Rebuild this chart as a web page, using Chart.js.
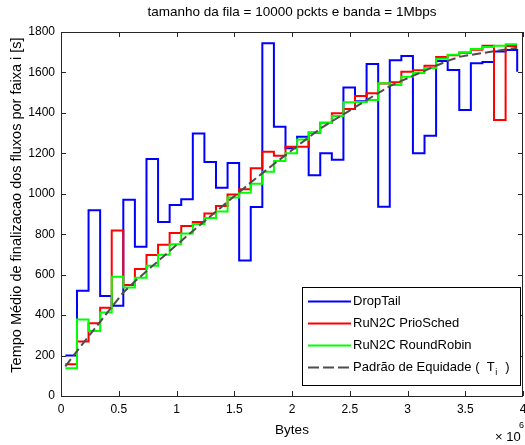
<!DOCTYPE html>
<html><head><meta charset="utf-8">
<script src="https://cdn.jsdelivr.net/npm/chart.js@4.4.1/dist/chart.umd.min.js"></script>
<style>html,body{margin:0;padding:0;background:#fff}</style>
</head><body>
<canvas id="c" width="525" height="445"></canvas>
<script>
// ---- data ----
const xBytes = [38000, 138300, 238600, 338900, 439200, 539500, 639800, 740100, 840400, 940700,
  1041000, 1141300, 1241600, 1341900, 1442200, 1542500, 1642800, 1743100, 1843400, 1943700,
  2044000, 2144300, 2244600, 2344900, 2445200, 2545500, 2645800, 2746100, 2846400, 2946700,
  3047000, 3147300, 3247600, 3347900, 3448200, 3548500, 3648800, 3749100, 3849400, 3949700];
const dropTail = [200, 520, 918, 494, 446, 971, 738, 1172, 860, 945,
  973, 1298, 1157, 1030, 1152, 670, 934, 1744, 1332, 1225,
  1282, 1092, 1200, 1168, 1526, 1457, 1642, 936, 1660, 1681,
  1200, 1287, 1657, 1612, 1414, 1645, 1652, 1704, 1711, 1604];
const prioSched = [157, 269, 360, 437, 819, 549, 628, 697, 748, 806,
  841, 860, 903, 940, 997, 1022, 1126, 1208, 1188, 1233,
  1233, 1302, 1351, 1398, 1419, 1483, 1497, 1545, 1552, 1604,
  1611, 1633, 1676, 1685, 1697, 1712, 1732, 1365, 1731, 1731];
const roundRobin = [137, 378, 321, 413, 590, 537, 585, 644, 699, 750,
  803, 850, 880, 912, 981, 1005, 1050, 1109, 1162, 1200,
  1268, 1304, 1351, 1385, 1452, 1454, 1464, 1546, 1538, 1579,
  1597, 1622, 1668, 1688, 1700, 1716, 1726, 1732, 1739, 1739];
const equidade = [147, 222, 295, 367, 440, 512, 567, 617, 667, 717,
  767, 816, 864, 912, 960, 1008, 1056, 1102, 1147, 1191,
  1235, 1279, 1322, 1358, 1393, 1428, 1463, 1498, 1532, 1558,
  1583, 1608, 1633, 1657, 1677, 1687, 1696, 1705, 1714, 1722];
const xTicks = [0, 500000, 1000000, 1500000, 2000000, 2500000, 3000000, 3500000, 4000000];
const yTicks = [0, 200, 400, 600, 800, 1000, 1200, 1400, 1600, 1800];
const seriesNames = ['DropTail', 'RuN2C PrioSched', 'RuN2C RoundRobin', 'Padrão de Equidade'];
const chartTitle = 'tamanho da fila = 10000 pckts e banda = 1Mbps';
const xTitle = 'Bytes';
const yTitle = 'Tempo Médio de finalizacao dos fluxos por faixa i [s]';

const FONT = '"Liberation Sans", Arial, Helvetica, sans-serif';
const colors = ['#0000ff', '#ff0000', '#00ff00', '#4d4d4d'];
const DASH = [9, 4];

function pts(ys) { return xBytes.map((x, i) => ({ x: x, y: ys[i] })); }

const framePlugin = {
  id: 'frame',
  beforeDatasetsDraw(chart) {
    const { ctx, chartArea: a, scales: { x, y } } = chart;
    ctx.save();
    ctx.strokeStyle = '#262626';
    ctx.lineWidth = 1;
    ctx.strokeRect(Math.round(a.left) + 0.5, Math.round(a.top) + 0.5,
      Math.round(a.right - a.left) - 1, Math.round(a.bottom - a.top));
    ctx.beginPath();
    const T = 5;
    xTicks.forEach(v => {
      const px = Math.round(x.getPixelForValue(v)) + 0.5;
      ctx.moveTo(px, a.bottom); ctx.lineTo(px, a.bottom - T);
      ctx.moveTo(px, a.top); ctx.lineTo(px, a.top + T);
    });
    yTicks.forEach(v => {
      const py = Math.round(y.getPixelForValue(v)) + 0.5;
      ctx.moveTo(a.left, py); ctx.lineTo(a.left + T, py);
      ctx.moveTo(a.right, py); ctx.lineTo(a.right - T, py);
    });
    ctx.stroke();
    ctx.restore();
  },
  afterDraw(chart) {
    const { ctx, chartArea: a } = chart;
    ctx.save();
    ctx.fillStyle = '#000';
    ctx.textBaseline = 'middle';
    // title
    ctx.font = '13.5px ' + FONT;
    ctx.textAlign = 'center';
    ctx.fillText(chartTitle, (a.left + a.right) / 2, 12.5);
    // y axis title
    ctx.save();
    ctx.translate(17, 205);
    ctx.rotate(-Math.PI / 2);
    ctx.font = '14.5px ' + FONT;
    ctx.fillText(yTitle, 0, 0);
    ctx.restore();
    // x axis title
    ctx.font = '13.5px ' + FONT;
    ctx.fillText(xTitle, (a.left + a.right) / 2, 430);
    // x10^6
    ctx.textAlign = 'left';
    ctx.font = '13px ' + FONT;
    ctx.fillText('\u00d7 10', 495, 437);
    ctx.font = '9px ' + FONT;
    ctx.fillText('6', 519, 426);
    // legend
    const L = { x: 302, y: 287, w: 218, h: 98 };
    ctx.fillStyle = '#fff';
    ctx.fillRect(L.x, L.y, L.w, L.h);
    ctx.strokeStyle = '#000';
    ctx.lineWidth = 1;
    ctx.strokeRect(L.x + 0.5, L.y + 0.5, L.w, L.h);
    const rows = [301.5, 323.5, 345.5, 367.5];
    ctx.font = '13px ' + FONT;
    rows.forEach((ry, i) => {
      ctx.beginPath();
      ctx.strokeStyle = colors[i];
      ctx.lineWidth = 2;
      ctx.setLineDash(i === 3 ? [11, 4] : []);
      ctx.moveTo(308, ry); ctx.lineTo(351, ry);
      ctx.stroke();
      ctx.setLineDash([]);
      ctx.fillStyle = '#000';
      if (i < 3) {
        ctx.fillText(seriesNames[i], 353, ry);
      } else {
        const s = seriesNames[i] + ' (  T';
        ctx.fillText(s, 353, ry);
        const w = ctx.measureText(s).width;
        ctx.font = '9px ' + FONT;
        ctx.fillText('i', 353 + w + 0.5, ry + 5);
        const wi = ctx.measureText('i').width;
        ctx.font = '13px ' + FONT;
        ctx.fillText('  )', 353 + w + wi + 1.5, ry);
      }
    });
    ctx.restore();
  }
};

new Chart(document.getElementById('c'), {
  type: 'line',
  data: {
    datasets: [
      { label: seriesNames[0], data: pts(dropTail), borderColor: colors[0], borderWidth: 2, stepped: true, order: 3 },
      { label: seriesNames[1], data: pts(prioSched), borderColor: colors[1], borderWidth: 2, stepped: true, order: 2 },
      { label: seriesNames[2], data: pts(roundRobin), borderColor: colors[2], borderWidth: 2, stepped: true, order: 1 },
      { label: seriesNames[3], data: pts(equidade), borderColor: colors[3], borderWidth: 2, borderDash: DASH, order: 0 }
    ]
  },
  options: {
    responsive: false,
    animation: false,
    devicePixelRatio: 1,
    layout: { padding: { left: 0, right: 2, top: 32, bottom: 0 } },
    elements: { point: { radius: 0, hoverRadius: 0 }, line: { tension: 0, fill: false, borderJoinStyle: 'miter' } },
    plugins: { legend: { display: false }, tooltip: { enabled: false }, title: { display: false } },
    scales: {
      x: {
        type: 'linear', min: 0, max: 4000000,
        afterBuildTicks: s => { s.ticks = xTicks.map(v => ({ value: v })); },
        afterFit: s => { s.height = 49; s.paddingLeft = 0; s.paddingRight = 0; },
        grid: { display: false, drawTicks: false },
        border: { display: false },
        ticks: { padding: 6, color: '#000', font: { family: FONT, size: 12 }, maxRotation: 0,
          callback: v => String(v / 1000000) },
        title: { display: false }
      },
      y: {
        type: 'linear', min: 0, max: 1800,
        afterBuildTicks: s => { s.ticks = yTicks.map(v => ({ value: v })); },
        afterFit: s => { s.width = 61; s.paddingTop = 0; s.paddingBottom = 0; },
        grid: { display: false, drawTicks: false },
        border: { display: false },
        ticks: { padding: 6, color: '#000', font: { family: FONT, size: 12 }, callback: v => String(v) },
        title: { display: false }
      }
    }
  },
  plugins: [framePlugin]
});
</script>
</body></html>
